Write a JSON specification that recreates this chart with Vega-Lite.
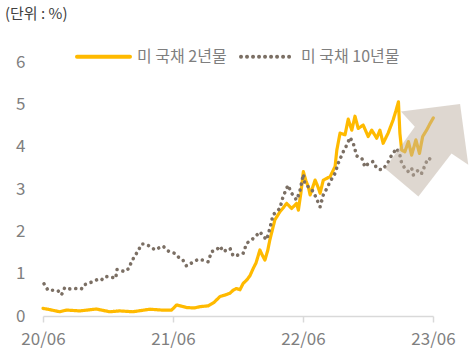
{
  "$schema": "https://vega.github.io/schema/vega-lite/v6.json",
  "width": 390,
  "height": 254,
  "autosize": {"type": "none"},
  "padding": {"left": 43, "top": 62, "right": 43, "bottom": 41},
  "background": "white",
  "config": {"view": {"stroke": null}, "font": "Noto Sans CJK KR"},
  "title": {"text": "(단위 : %)", "anchor": "start", "frame": "group", "dx": -38, "offset": 6, "fontSize": 15, "fontWeight": "normal", "color": "#404040", "font": "Noto Sans CJK KR"},
  "datasets": {
    "series": [
      {"date": "2020-06-01", "value": 0.18, "series": "미 국채 2년물"},
      {"date": "2020-06-20", "value": 0.15, "series": "미 국채 2년물"},
      {"date": "2020-07-18", "value": 0.10, "series": "미 국채 2년물"},
      {"date": "2020-08-06", "value": 0.14, "series": "미 국채 2년물"},
      {"date": "2020-09-12", "value": 0.12, "series": "미 국채 2년물"},
      {"date": "2020-10-29", "value": 0.165, "series": "미 국채 2년물"},
      {"date": "2020-12-05", "value": 0.10, "series": "미 국채 2년물"},
      {"date": "2021-01-02", "value": 0.12, "series": "미 국채 2년물"},
      {"date": "2021-02-08", "value": 0.10, "series": "미 국채 2년물"},
      {"date": "2021-03-28", "value": 0.16, "series": "미 국채 2년물"},
      {"date": "2021-05-01", "value": 0.14, "series": "미 국채 2년물"},
      {"date": "2021-05-28", "value": 0.14, "series": "미 국채 2년물"},
      {"date": "2021-06-11", "value": 0.26, "series": "미 국채 2년물"},
      {"date": "2021-07-09", "value": 0.20, "series": "미 국채 2년물"},
      {"date": "2021-08-01", "value": 0.19, "series": "미 국채 2년물"},
      {"date": "2021-08-15", "value": 0.22, "series": "미 국채 2년물"},
      {"date": "2021-09-08", "value": 0.24, "series": "미 국채 2년물"},
      {"date": "2021-09-24", "value": 0.32, "series": "미 국채 2년물"},
      {"date": "2021-10-11", "value": 0.46, "series": "미 국채 2년물"},
      {"date": "2021-10-27", "value": 0.50, "series": "미 국채 2년물"},
      {"date": "2021-11-08", "value": 0.54, "series": "미 국채 2년물"},
      {"date": "2021-11-17", "value": 0.61, "series": "미 국채 2년물"},
      {"date": "2021-11-26", "value": 0.65, "series": "미 국채 2년물"},
      {"date": "2021-12-06", "value": 0.62, "series": "미 국채 2년물"},
      {"date": "2021-12-15", "value": 0.77, "series": "미 국채 2년물"},
      {"date": "2021-12-25", "value": 0.85, "series": "미 국채 2년물"},
      {"date": "2022-01-03", "value": 0.95, "series": "미 국채 2년물"},
      {"date": "2022-01-12", "value": 1.12, "series": "미 국채 2년물"},
      {"date": "2022-01-20", "value": 1.25, "series": "미 국채 2년물"},
      {"date": "2022-01-31", "value": 1.56, "series": "미 국채 2년물"},
      {"date": "2022-02-06", "value": 1.45, "series": "미 국채 2년물"},
      {"date": "2022-02-14", "value": 1.32, "series": "미 국채 2년물"},
      {"date": "2022-02-22", "value": 1.55, "series": "미 국채 2년물"},
      {"date": "2022-02-28", "value": 1.80, "series": "미 국채 2년물"},
      {"date": "2022-03-14", "value": 2.27, "series": "미 국채 2년물"},
      {"date": "2022-03-28", "value": 2.46, "series": "미 국채 2년물"},
      {"date": "2022-04-06", "value": 2.55, "series": "미 국채 2년물"},
      {"date": "2022-04-16", "value": 2.66, "series": "미 국채 2년물"},
      {"date": "2022-04-30", "value": 2.54, "series": "미 국채 2년물"},
      {"date": "2022-05-14", "value": 2.66, "series": "미 국채 2년물"},
      {"date": "2022-05-19", "value": 2.50, "series": "미 국채 2년물"},
      {"date": "2022-05-26", "value": 2.90, "series": "미 국채 2년물"},
      {"date": "2022-06-02", "value": 3.41, "series": "미 국채 2년물"},
      {"date": "2022-06-09", "value": 3.20, "series": "미 국채 2년물"},
      {"date": "2022-06-16", "value": 3.05, "series": "미 국채 2년물"},
      {"date": "2022-06-21", "value": 2.86, "series": "미 국채 2년물"},
      {"date": "2022-07-05", "value": 3.21, "series": "미 국채 2년물"},
      {"date": "2022-07-13", "value": 3.05, "series": "미 국채 2년물"},
      {"date": "2022-07-19", "value": 2.90, "series": "미 국채 2년물"},
      {"date": "2022-07-28", "value": 3.21, "series": "미 국채 2년물"},
      {"date": "2022-08-16", "value": 3.29, "series": "미 국채 2년물"},
      {"date": "2022-08-30", "value": 3.53, "series": "미 국채 2년물"},
      {"date": "2022-09-04", "value": 3.92, "series": "미 국채 2년물"},
      {"date": "2022-09-13", "value": 4.32, "series": "미 국채 2년물"},
      {"date": "2022-09-27", "value": 4.28, "series": "미 국채 2년물"},
      {"date": "2022-10-06", "value": 4.65, "series": "미 국채 2년물"},
      {"date": "2022-10-16", "value": 4.39, "series": "미 국채 2년물"},
      {"date": "2022-10-25", "value": 4.72, "series": "미 국채 2년물"},
      {"date": "2022-11-03", "value": 4.43, "series": "미 국채 2년물"},
      {"date": "2022-11-17", "value": 4.51, "series": "미 국채 2년물"},
      {"date": "2022-12-01", "value": 4.24, "series": "미 국채 2년물"},
      {"date": "2022-12-11", "value": 4.39, "series": "미 국채 2년물"},
      {"date": "2022-12-25", "value": 4.20, "series": "미 국채 2년물"},
      {"date": "2023-01-03", "value": 4.39, "series": "미 국채 2년물"},
      {"date": "2023-01-12", "value": 4.08, "series": "미 국채 2년물"},
      {"date": "2023-01-26", "value": 4.32, "series": "미 국채 2년물"},
      {"date": "2023-02-09", "value": 4.63, "series": "미 국채 2년물"},
      {"date": "2023-02-17", "value": 4.85, "series": "미 국채 2년물"},
      {"date": "2023-02-24", "value": 5.06, "series": "미 국채 2년물"},
      {"date": "2023-02-28", "value": 4.32, "series": "미 국채 2년물"},
      {"date": "2023-03-05", "value": 3.92, "series": "미 국채 2년물"},
      {"date": "2023-03-14", "value": 3.88, "series": "미 국채 2년물"},
      {"date": "2023-03-24", "value": 4.12, "series": "미 국채 2년물"},
      {"date": "2023-04-02", "value": 3.80, "series": "미 국채 2년물"},
      {"date": "2023-04-14", "value": 4.16, "series": "미 국채 2년물"},
      {"date": "2023-04-24", "value": 3.84, "series": "미 국채 2년물"},
      {"date": "2023-05-03", "value": 4.24, "series": "미 국채 2년물"},
      {"date": "2023-05-14", "value": 4.39, "series": "미 국채 2년물"},
      {"date": "2023-05-24", "value": 4.55, "series": "미 국채 2년물"},
      {"date": "2023-06-02", "value": 4.68, "series": "미 국채 2년물"},
      {"date": "2020-06-04", "value": 0.76, "series": "미 국채 10년물"},
      {"date": "2020-06-15", "value": 0.61, "series": "미 국채 10년물"},
      {"date": "2020-06-29", "value": 0.61, "series": "미 국채 10년물"},
      {"date": "2020-07-13", "value": 0.60, "series": "미 국채 10년물"},
      {"date": "2020-07-23", "value": 0.50, "series": "미 국채 10년물"},
      {"date": "2020-08-01", "value": 0.67, "series": "미 국채 10년물"},
      {"date": "2020-08-15", "value": 0.64, "series": "미 국채 10년물"},
      {"date": "2020-08-29", "value": 0.65, "series": "미 국채 10년물"},
      {"date": "2020-09-17", "value": 0.64, "series": "미 국채 10년물"},
      {"date": "2020-09-23", "value": 0.73, "series": "미 국채 10년물"},
      {"date": "2020-10-05", "value": 0.77, "series": "미 국채 10년물"},
      {"date": "2020-10-19", "value": 0.81, "series": "미 국채 10년물"},
      {"date": "2020-11-03", "value": 0.87, "series": "미 국채 10년물"},
      {"date": "2020-11-12", "value": 0.85, "series": "미 국채 10년물"},
      {"date": "2020-11-21", "value": 0.93, "series": "미 국채 10년물"},
      {"date": "2020-12-05", "value": 0.93, "series": "미 국채 10년물"},
      {"date": "2020-12-22", "value": 0.89, "series": "미 국채 10년물"},
      {"date": "2020-12-26", "value": 1.10, "series": "미 국채 10년물"},
      {"date": "2021-01-07", "value": 1.07, "series": "미 국채 10년물"},
      {"date": "2021-01-17", "value": 1.05, "series": "미 국채 10년물"},
      {"date": "2021-01-29", "value": 1.13, "series": "미 국채 10년물"},
      {"date": "2021-02-04", "value": 1.28, "series": "미 국채 10년물"},
      {"date": "2021-02-14", "value": 1.42, "series": "미 국채 10년물"},
      {"date": "2021-02-23", "value": 1.54, "series": "미 국채 10년물"},
      {"date": "2021-03-05", "value": 1.70, "series": "미 국채 10년물"},
      {"date": "2021-03-14", "value": 1.70, "series": "미 국채 10년물"},
      {"date": "2021-03-28", "value": 1.65, "series": "미 국채 10년물"},
      {"date": "2021-04-11", "value": 1.56, "series": "미 국채 10년물"},
      {"date": "2021-04-25", "value": 1.62, "series": "미 국채 10년물"},
      {"date": "2021-05-04", "value": 1.65, "series": "미 국채 10년물"},
      {"date": "2021-05-18", "value": 1.54, "series": "미 국채 10년물"},
      {"date": "2021-05-23", "value": 1.52, "series": "미 국채 10년물"},
      {"date": "2021-06-06", "value": 1.48, "series": "미 국채 10년물"},
      {"date": "2021-06-20", "value": 1.36, "series": "미 국채 10년물"},
      {"date": "2021-06-29", "value": 1.32, "series": "미 국채 10년물"},
      {"date": "2021-07-09", "value": 1.18, "series": "미 국채 10년물"},
      {"date": "2021-07-23", "value": 1.25, "series": "미 국채 10년물"},
      {"date": "2021-08-11", "value": 1.34, "series": "미 국채 10년물"},
      {"date": "2021-08-25", "value": 1.32, "series": "미 국채 10년물"},
      {"date": "2021-09-08", "value": 1.28, "series": "미 국채 10년물"},
      {"date": "2021-09-17", "value": 1.52, "series": "미 국채 10년물"},
      {"date": "2021-10-01", "value": 1.56, "series": "미 국채 10년물"},
      {"date": "2021-10-11", "value": 1.65, "series": "미 국채 10년물"},
      {"date": "2021-10-20", "value": 1.52, "series": "미 국채 10년물"},
      {"date": "2021-10-29", "value": 1.56, "series": "미 국채 10년물"},
      {"date": "2021-11-08", "value": 1.60, "series": "미 국채 10년물"},
      {"date": "2021-11-17", "value": 1.42, "series": "미 국채 10년물"},
      {"date": "2021-12-01", "value": 1.44, "series": "미 국채 10년물"},
      {"date": "2021-12-15", "value": 1.48, "series": "미 국채 10년물"},
      {"date": "2021-12-25", "value": 1.72, "series": "미 국채 10년물"},
      {"date": "2022-01-08", "value": 1.80, "series": "미 국채 10년물"},
      {"date": "2022-01-22", "value": 1.91, "series": "미 국채 10년물"},
      {"date": "2022-01-31", "value": 1.99, "series": "미 국채 10년물"},
      {"date": "2022-02-08", "value": 1.90, "series": "미 국채 10년물"},
      {"date": "2022-02-19", "value": 1.80, "series": "미 국채 10년물"},
      {"date": "2022-02-28", "value": 2.07, "series": "미 국채 10년물"},
      {"date": "2022-03-09", "value": 2.39, "series": "미 국채 10년물"},
      {"date": "2022-03-19", "value": 2.47, "series": "미 국채 10년물"},
      {"date": "2022-03-28", "value": 2.54, "series": "미 국채 10년물"},
      {"date": "2022-04-06", "value": 2.82, "series": "미 국채 10년물"},
      {"date": "2022-04-20", "value": 3.09, "series": "미 국채 10년물"},
      {"date": "2022-04-30", "value": 2.90, "series": "미 국채 10년물"},
      {"date": "2022-05-14", "value": 2.74, "series": "미 국채 10년물"},
      {"date": "2022-05-23", "value": 2.94, "series": "미 국채 10년물"},
      {"date": "2022-06-02", "value": 3.35, "series": "미 국채 10년물"},
      {"date": "2022-06-06", "value": 3.13, "series": "미 국채 10년물"},
      {"date": "2022-06-16", "value": 3.05, "series": "미 국채 10년물"},
      {"date": "2022-06-30", "value": 2.94, "series": "미 국채 10년물"},
      {"date": "2022-07-10", "value": 2.75, "series": "미 국채 10년물"},
      {"date": "2022-07-19", "value": 2.58, "series": "미 국채 10년물"},
      {"date": "2022-07-28", "value": 2.86, "series": "미 국채 10년물"},
      {"date": "2022-08-06", "value": 3.00, "series": "미 국채 10년물"},
      {"date": "2022-08-16", "value": 3.17, "series": "미 국채 10년물"},
      {"date": "2022-08-30", "value": 3.37, "series": "미 국채 10년물"},
      {"date": "2022-09-08", "value": 3.61, "series": "미 국채 10년물"},
      {"date": "2022-09-22", "value": 3.88, "series": "미 국채 10년물"},
      {"date": "2022-10-02", "value": 4.04, "series": "미 국채 10년물"},
      {"date": "2022-10-11", "value": 4.22, "series": "미 국채 10년물"},
      {"date": "2022-10-20", "value": 4.08, "series": "미 국채 10년물"},
      {"date": "2022-10-30", "value": 3.78, "series": "미 국채 10년물"},
      {"date": "2022-11-13", "value": 3.73, "series": "미 국채 10년물"},
      {"date": "2022-11-22", "value": 3.52, "series": "미 국채 10년물"},
      {"date": "2022-12-01", "value": 3.60, "series": "미 국채 10년물"},
      {"date": "2022-12-15", "value": 3.65, "series": "미 국채 10년물"},
      {"date": "2022-12-25", "value": 3.49, "series": "미 국채 10년물"},
      {"date": "2023-01-08", "value": 3.45, "series": "미 국채 10년물"},
      {"date": "2023-01-22", "value": 3.57, "series": "미 국채 10년물"},
      {"date": "2023-02-05", "value": 3.80, "series": "미 국채 10년물"},
      {"date": "2023-02-19", "value": 3.96, "series": "미 국채 10년물"},
      {"date": "2023-02-28", "value": 3.80, "series": "미 국채 10년물"},
      {"date": "2023-03-05", "value": 3.61, "series": "미 국채 10년물"},
      {"date": "2023-03-14", "value": 3.49, "series": "미 국채 10년물"},
      {"date": "2023-03-24", "value": 3.41, "series": "미 국채 10년물"},
      {"date": "2023-04-02", "value": 3.49, "series": "미 국채 10년물"},
      {"date": "2023-04-07", "value": 3.33, "series": "미 국채 10년물"},
      {"date": "2023-04-21", "value": 3.45, "series": "미 국채 10년물"},
      {"date": "2023-04-30", "value": 3.37, "series": "미 국채 10년물"},
      {"date": "2023-05-14", "value": 3.65, "series": "미 국채 10년물"},
      {"date": "2023-05-19", "value": 3.73, "series": "미 국채 10년물"},
      {"date": "2023-05-28", "value": 3.69, "series": "미 국채 10년물"}
    ],
    "arrow": [
      {"date": "2023-08-16", "value": 5.01, "order": 1},
      {"date": "2023-09-08", "value": 3.57, "order": 2},
      {"date": "2023-07-23", "value": 3.84, "order": 3},
      {"date": "2023-04-21", "value": 2.82, "order": 4},
      {"date": "2023-01-17", "value": 3.49, "order": 5},
      {"date": "2023-04-11", "value": 4.47, "order": 6},
      {"date": "2023-03-03", "value": 4.83, "order": 7},
      {"date": "2023-08-16", "value": 5.01, "order": 8}
    ]
  },
  "encoding": {
    "x": {
      "field": "date", "type": "temporal",
      "scale": {"type": "utc", "domain": [{"year": 2020, "month": 6, "date": 1, "utc": true}, {"year": 2023, "month": 6, "date": 1, "utc": true}], "nice": false},
      "axis": {
        "title": null,
        "values": [{"year": 2020, "month": 6, "date": 1, "utc": true}, {"year": 2021, "month": 6, "date": 1, "utc": true}, {"year": 2022, "month": 6, "date": 1, "utc": true}, {"year": 2023, "month": 6, "date": 1, "utc": true}],
        "labelExpr": "utcFormat(datum.value, '%y/%m')",
        "grid": false,
        "domainColor": "#d9d9d9", "domainWidth": 1.5,
        "tickColor": "#d9d9d9", "tickWidth": 1.5, "tickSize": 6,
        "labelFontSize": 17, "labelColor": "#7f7f7f", "labelPadding": 9,
        "labelFont": "Noto Sans CJK KR", "labelFlush": false
      }
    },
    "y": {
      "field": "value", "type": "quantitative",
      "scale": {"domain": [0, 6], "nice": false, "zero": true},
      "axis": {
        "title": null, "values": [0, 1, 2, 3, 4, 5, 6], "grid": false, "domain": false, "ticks": false,
        "labelFontSize": 17, "labelColor": "#7f7f7f", "labelPadding": 18, "labelFont": "Noto Sans CJK KR"
      }
    }
  },
  "layer": [
    {
      "data": {"name": "series"},
      "transform": [{"filter": "datum.series === '미 국채 2년물'"}],
      "mark": {"type": "line", "strokeWidth": 3.2, "strokeJoin": "round", "strokeCap": "round"},
      "encoding": {
        "color": {"field": "series", "type": "nominal",
          "scale": {"domain": ["미 국채 2년물", "미 국채 10년물"], "range": ["#FFBA00", "#7b6f64"]},
          "legend": {"title": null, "orient": "none", "legendX": 32, "legendY": -34, "direction": "horizontal",
            "symbolType": "stroke", "symbolSize": 2809, "symbolStrokeWidth": 4, "labelOffset": 5, "columnPadding": 6,
            "labelFontSize": 16, "labelColor": "#7f7f7f", "labelFont": "Noto Sans CJK KR", "padding": 0,
            "encode": {"symbols": {"update": {"strokeCap": {"value": "round"}}}}}},
        "strokeDash": {"field": "series", "type": "nominal",
          "scale": {"domain": ["미 국채 2년물", "미 국채 10년물"], "range": [[1, 0], [0.01, 6]]},
          "legend": null}
      }
    },
    {
      "data": {"name": "series"},
      "transform": [{"filter": "datum.series === '미 국채 10년물'"}],
      "mark": {"type": "line", "strokeWidth": 3.6, "strokeJoin": "round", "strokeCap": "round"},
      "encoding": {
        "color": {"field": "series", "type": "nominal"},
        "strokeDash": {"field": "series", "type": "nominal", "legend": null}
      }
    },
    {
      "data": {"name": "arrow"},
      "mark": {"type": "line", "fill": "#bdafa1", "fillOpacity": 0.5, "strokeWidth": 0, "stroke": null},
      "encoding": {
        "order": {"field": "order", "type": "quantitative"}
      }
    }
  ]
}
